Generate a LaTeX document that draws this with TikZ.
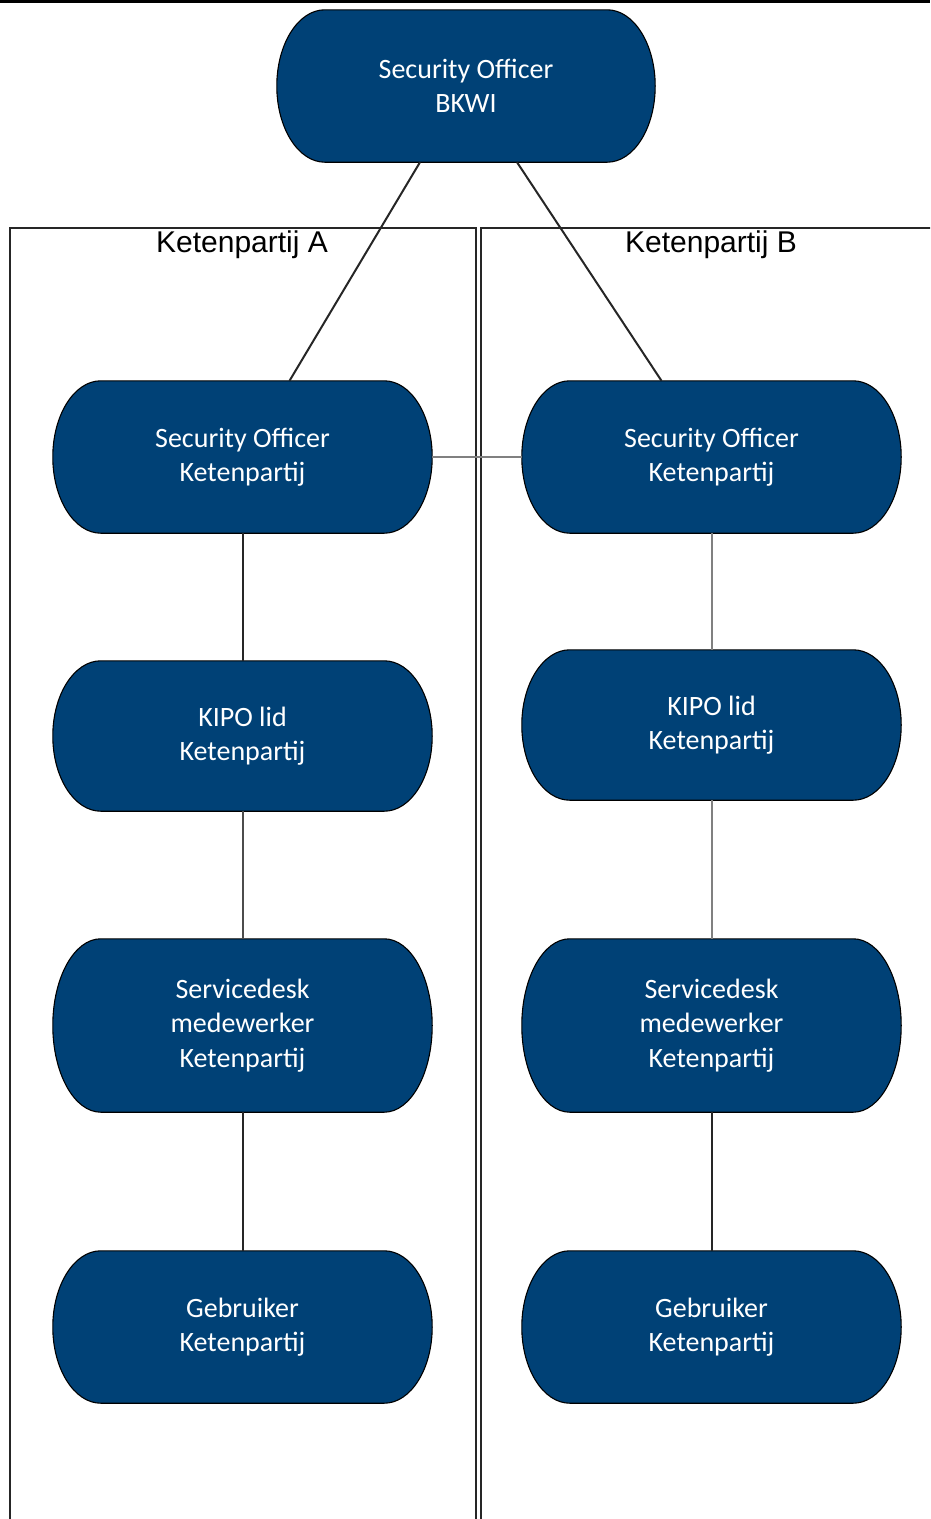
\documentclass[tikz,border=0pt]{standalone}
\usepackage{fontspec}
\newfontfamily\rolefont{Carlito}
\newfontfamily\framefont{Liberation Sans}
\usetikzlibrary{calc,backgrounds}
\definecolor{bkwiblue}{RGB}{0,65,118}

% oval outline behind a role node
\newcommand\rolebg[1]{%
  \path[fill=bkwiblue, draw=black, line width=1.1pt]
    let \p1=(#1.north west), \p2=(#1.south east), \n1={(\y1-\y2)/2} in
    (\x1+48pt,\y1) -- (\x2-48pt,\y1)
    arc[start angle=90, end angle=-90, x radius=48pt, y radius=\n1]
    -- (\x1+48pt,\y2)
    arc[start angle=270, end angle=90, x radius=48pt, y radius=\n1] -- cycle;}

\begin{document}
\begin{tikzpicture}[x=1pt, y=-1pt,
  role/.style={text=white, font=\rolefont\fontsize{28}{34.5}\selectfont, align=center,
    minimum width=379pt, minimum height=152pt, inner sep=0pt},
  partij/.style={draw=black!85, line width=2pt},
  partij label/.style={font=\framefont\fontsize{30}{30}\selectfont, anchor=base, inner sep=0pt},
  link/.style={draw=black!85, line width=2pt},
  softlink/.style={draw=black!50, line width=2pt}]
  \useasboundingbox (0,0) rectangle (930,1519);
  \clip (0,0) rectangle (930,1519);

  % top rule and the two chain partners
  \draw[line width=3pt] (0,1.5) -- (930,1.5);
  \draw[partij] (10,1540) |- (476,228) -- (476,1540);
  \draw[partij] (481,1540) |- (945,228);
  \node[partij label] (labA) at (242,252) {Ketenpartij A};
  \node[partij label] (labB) at (711,252) {Ketenpartij B};

  \node[role, minimum width=378pt] (bkwi) at (466,86) {Security Officer\\BKWI};
  \foreach \c/\x/\k in {A/242.5/736, B/711.5/725} {
    \node[role] (so\c) at (\x,457) {Security Officer\\Ketenpartij};
    \node[role, minimum height=150pt] (kipo\c) at (\x,\k) {KIPO lid\\Ketenpartij};
    \node[role, minimum height=173pt] (sd\c) at (\x,1025.5) {Servicedesk\\medewerker\\Ketenpartij};
    \node[role] (geb\c) at (\x,1327) {Gebruiker\\Ketenpartij};
  }

  \begin{scope}[on background layer]
    \foreach \role in {bkwi,soA,kipoA,sdA,gebA,soB,kipoB,sdB,gebB}
      \rolebg{\role};
  \end{scope}

  \draw[link] ($(bkwi.south)+(-46,0)$) -- ($(soA.north)+(47,0)$);
  \draw[link] ($(bkwi.south)+(51,0)$) -- ($(soB.north)+(-50,0)$);
  \draw[softlink] (soA) -- (soB);
  \draw[link] (soA) -- (kipoA);
  \draw[link, draw=black!70] (kipoA) -- (sdA);
  \draw[link] (sdA) -- (gebA);
  \draw[softlink] (soB) -- (kipoB);
  \draw[softlink] (kipoB) -- (sdB);
  \draw[link] (sdB) -- (gebB);
\end{tikzpicture}
\end{document}
